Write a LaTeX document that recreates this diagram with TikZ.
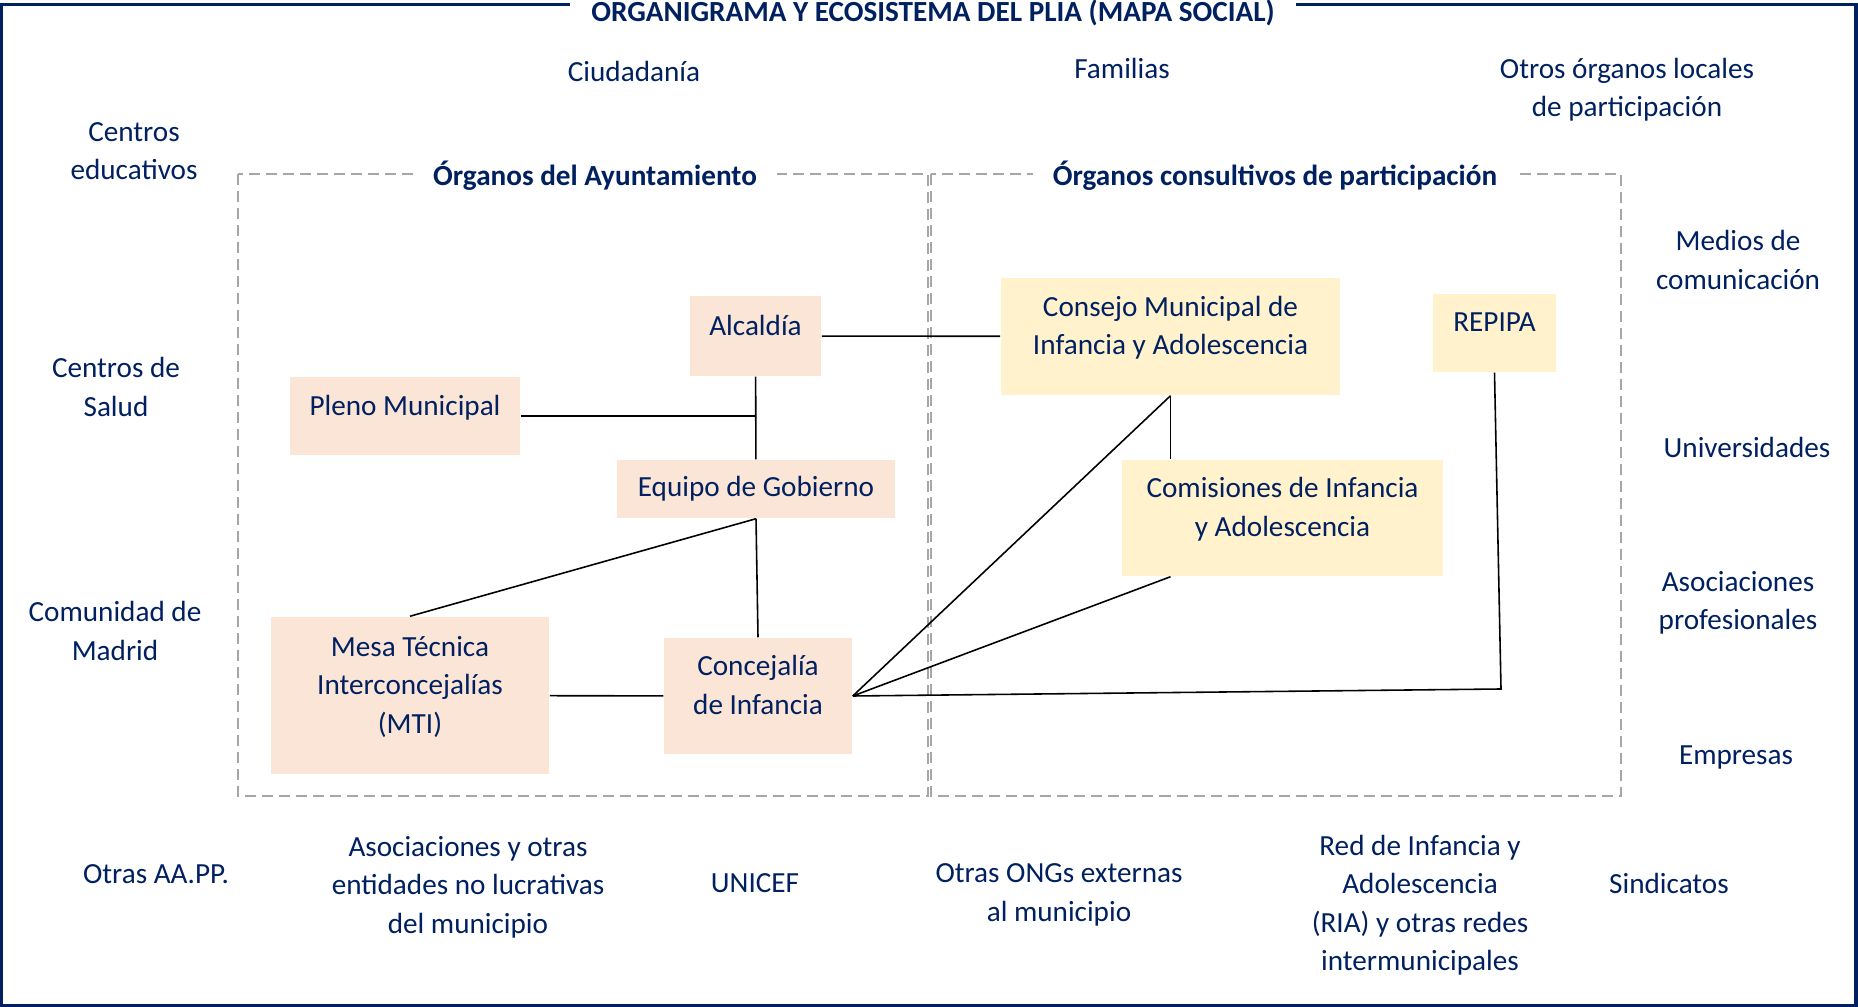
\documentclass[tikz,border=0pt]{standalone}
\usepackage{fontspec}
\setmainfont{Carlito}
\definecolor{navy}{RGB}{0,32,96}
\definecolor{rosa}{RGB}{251,229,214}
\definecolor{crema}{RGB}{255,242,204}
\definecolor{gris}{RGB}{166,166,166}
\newcommand{\boxpad}{\rule[-0.22cm]{0pt}{0.22cm}}

\begin{document}
\begin{tikzpicture}[x=0.01cm, y=-0.01cm,
  every node/.style={font=\fontsize{8.3}{10.95}\selectfont, text=navy, align=center},
  ayto/.style={fill=rosa, inner sep=0pt},
  cons/.style={fill=crema, inner sep=0pt},
  grupo/.style={draw=gris, line width=0.7pt, dash pattern=on 0.11cm off 0.06cm},
  rotulo/.style={fill=white, anchor=base, font=\fontsize{8.3}{10.95}\selectfont\bfseries},
  enlace/.style={line width=0.45pt}]
\useasboundingbox (0,0) rectangle (1858,1007);
\draw [navy, line width=0.9pt] (1.5,4.3) rectangle (1856,1005.5);
\draw [grupo] (238,174) rectangle (928,796);
\draw [grupo] (931,174) rectangle (1621,796);

\node (titulo)  at (933,22)  [rotulo, inner xsep=0.21cm, inner ysep=0.03cm] {ORGANIGRAMA Y ECOSISTEMA DEL PLIA (MAPA SOCIAL)};
\node (ayto)    at (595,186) [rotulo, inner xsep=0.2cm]  {Órganos del Ayuntamiento};
\node (consult) at (1275,186) [rotulo, inner xsep=0.2cm] {Órganos consultivos de participación};

\node (alcaldia)   at (755.5,336)    [ayto, minimum width=1.31cm, minimum height=0.80cm] {Alcaldía\boxpad};
\node (pleno)      at (405,416)      [ayto, minimum width=2.30cm, minimum height=0.78cm] {Pleno Municipal\boxpad};
\node (equipo)     at (756,489)      [ayto, minimum width=2.78cm, minimum height=0.58cm] {Equipo de Gobierno};
\node (mesa)       at (410,695.5)    [ayto, minimum width=2.78cm, minimum height=1.57cm] {Mesa Técnica\\Interconcejalías\\(MTI)\boxpad};
\node (concejalia) at (758,696)      [ayto, minimum width=1.88cm, minimum height=1.16cm] {Concejalía\\de Infancia\boxpad};
\node (consejo)    at (1170.5,336.5) [cons, minimum width=3.39cm, minimum height=1.17cm] {Consejo Municipal de\\Infancia y Adolescencia\boxpad};
\node (repipa)     at (1494.5,333)   [cons, minimum width=1.23cm, minimum height=0.78cm] {REPIPA\boxpad};
\node (comisiones) at (1282.5,518)   [cons, minimum width=3.21cm, minimum height=1.16cm] {Comisiones de Infancia\\y Adolescencia\boxpad};

\coordinate (esquina) at (1501,689);
\draw [enlace] (alcaldia) -- (consejo);
\draw [enlace] (alcaldia) -- (equipo);
\draw [enlace] (pleno) -- (pleno -| alcaldia);
\draw [enlace] (equipo.south) -- (mesa.north);
\draw [enlace] (equipo.south) -- (concejalia.north);
\draw [enlace] (mesa) -- (concejalia);
\draw [enlace] (concejalia.east) -- (consejo.south);
\draw [enlace] (consejo.south) -- (consejo.south |- comisiones.north);
\draw [enlace] (concejalia.east) -- (consejo.south |- comisiones.south);
\draw [enlace] (concejalia.east) -- (esquina) -- (repipa.south);

\node (ciudadania)   at (634,71)   {Ciudadanía};
\node (familias)     at (1122,68)  {Familias};
\node (otros)        at (1627,89.5) {Otros órganos locales\\de participación};
\node (educativos)   at (134,151)  {Centros\\educativos};
\node (medios)       at (1738,260) {Medios de\\comunicación};
\node (salud)        at (116,387)  {Centros de\\Salud};
\node (univ)         at (1747,447) {Universidades};
\node (asocprof)     at (1738,603) {Asociaciones\\profesionales};
\node (comunidad)    at (115,631)  {Comunidad de\\Madrid};
\node (empresas)     at (1736,757) {Empresas};
\node (aapp)         at (156,874)  {Otras AA.PP.};
\node (asociaciones) at (468,887)  {Asociaciones y otras\\entidades no lucrativas\\del municipio};
\node (unicef)       at (755,883)  {UNICEF};
\node (ongs)         at (1059,895) {Otras ONGs externas\\al municipio};
\node (red)          at (1420,905) {Red de Infancia y\\Adolescencia\\(RIA) y otras redes\\intermunicipales};
\node (sindicatos)   at (1669,883) {Sindicatos};
\end{tikzpicture}
\end{document}
